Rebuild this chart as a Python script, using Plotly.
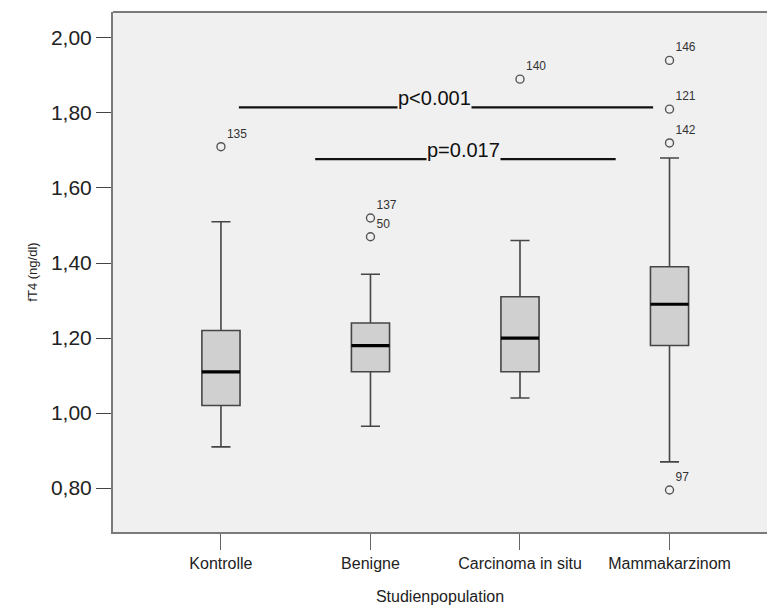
import plotly.graph_objects as go

# Study groups and box statistics for fT4 (ng/dl)
categories = ["Kontrolle", "Benigne", "Carcinoma in situ", "Mammakarzinom"]
lower_whisker = [0.91, 0.965, 1.04, 0.87]
q1 = [1.02, 1.11, 1.11, 1.18]
median = [1.11, 1.18, 1.20, 1.29]
q3 = [1.22, 1.24, 1.31, 1.39]
upper_whisker = [1.51, 1.37, 1.46, 1.68]

# Outliers: (group index, value, case label)
outlier_group = [0, 1, 1, 2, 3, 3, 3, 3]
outlier_value = [1.71, 1.52, 1.47, 1.89, 1.94, 1.81, 1.72, 0.795]
outlier_label = ["135", "137", "50", "140", "146", "121", "142", "97"]

# Significance brackets: (from group, to group, y level, text, text position)
sig_from = [0.12, 0.63]
sig_to = [2.89, 2.64]
sig_y = [1.815, 1.677]
sig_text = ["p<0.001", "p=0.017"]
sig_text_x = [1.43, 1.62]

yticks = [0.80, 1.00, 1.20, 1.40, 1.60, 1.80, 2.00]
ytick_text = ["0,80", "1,00", "1,20", "1,40", "1,60", "1,80", "2,00"]

box_w = 0.255
x_pos = list(range(len(categories)))
FONT = "Liberation Sans, Arial"

fig = go.Figure()

fig.add_trace(go.Box(
    x=x_pos,
    q1=q1, median=median, q3=q3,
    lowerfence=lower_whisker, upperfence=upper_whisker,
    width=box_w,
    whiskerwidth=0.5,
    fillcolor="#d0d0d0",
    line=dict(color="#454545", width=1.6),
    boxpoints=False,
    showlegend=False,
    hoverinfo="skip",
))

# Heavy median bars
for i, m in enumerate(median):
    fig.add_trace(go.Scatter(
        x=[x_pos[i] - box_w / 2, x_pos[i] + box_w / 2], y=[m, m],
        mode="lines", line=dict(color="#000000", width=3.2),
        showlegend=False, hoverinfo="skip",
    ))

# Outlier circles with case numbers
fig.add_trace(go.Scatter(
    x=[x_pos[g] for g in outlier_group],
    y=outlier_value,
    mode="markers+text",
    marker=dict(symbol="circle-open", size=8, color="#555555", line=dict(width=1.4)),
    text=outlier_label,
    textposition="top right",
    textfont=dict(family=FONT, size=12, color="#333333"),
    showlegend=False, hoverinfo="skip",
))

# Significance lines
for a, b, y in zip(sig_from, sig_to, sig_y):
    fig.add_shape(type="line", x0=a, x1=b, y0=y, y1=y,
                  line=dict(color="#111111", width=2.2))
for tx, y, t in zip(sig_text_x, sig_y, sig_text):
    fig.add_annotation(x=tx, y=y, text=t, showarrow=False,
                       yanchor="middle", yshift=9,
                       bgcolor="#f0f0f0", borderpad=0,
                       font=dict(family=FONT, size=20, color="#111111"))

# Top frame line (the frame is open on the right)
fig.add_shape(type="line", xref="paper", yref="paper", x0=0, x1=1, y0=1, y1=1,
              line=dict(color="#7a7a7a", width=2))

fig.update_layout(
    width=767, height=609,
    margin=dict(l=113, r=0, t=12, b=77),
    paper_bgcolor="#ffffff",
    plot_bgcolor="#f0f0f0",
    font=dict(family=FONT, color="#222222"),
    xaxis=dict(
        range=[-0.722, 3.652],
        tickvals=x_pos, ticktext=categories,
        tickfont=dict(size=16, color="#222222"),
        ticks="outside", ticklen=16, tickwidth=1.4, tickcolor="#666666",
        showgrid=False, zeroline=False,
        showline=True, linecolor="#7a7a7a", linewidth=2,
        title=dict(text="Studienpopulation", font=dict(size=16, color="#222222"), standoff=20),
    ),
    yaxis=dict(
        range=[0.683, 2.069],
        tickvals=yticks, ticktext=ytick_text,
        tickfont=dict(size=21, color="#222222"),
        ticks="outside", ticklen=15, tickwidth=1.4, tickcolor="#444444",
        showgrid=False, zeroline=False,
        showline=True, linecolor="#7a7a7a", linewidth=2,
        title=dict(text="fT4 (ng/dl)", font=dict(size=13, color="#222222"), standoff=10),
    ),
)

fig.write_html("out.html")
